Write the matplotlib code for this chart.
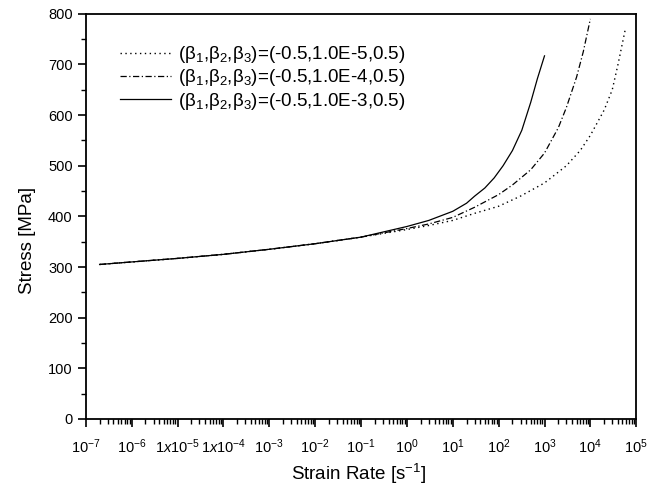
import matplotlib
matplotlib.use('Agg')
import matplotlib.pyplot as plt
from matplotlib.ticker import FixedLocator, FixedFormatter, LogLocator, NullFormatter, MultipleLocator

plt.rcParams['font.family'] = ['Liberation Sans', 'DejaVu Sans']
plt.rcParams['mathtext.fontset'] = 'custom'
plt.rcParams['mathtext.rm'] = 'Liberation Sans'
plt.rcParams['mathtext.it'] = 'Liberation Sans:italic'
plt.rcParams['mathtext.bf'] = 'Liberation Sans:bold'

# beta2 = 1.0E-5 (dotted)
rate_e5 = [2e-7, 1e-6, 1e-5, 1e-4, 1e-3, 1e-2, 1e-1, 1, 3, 10, 30, 100, 300, 1000,
           3000, 6000, 10000, 20000, 30000, 40000, 57000]
stress_e5 = [305, 310, 317, 325, 335, 346, 359, 374, 382, 392, 406, 420, 440, 466,
             500, 530, 560, 610, 650, 700, 767]

# beta2 = 1.0E-4 (dash-dot)
rate_e4 = [2e-7, 1e-6, 1e-5, 1e-4, 1e-3, 1e-2, 1e-1, 1, 3, 10, 30, 100, 200, 500,
           1000, 2000, 3000, 5000, 7000, 10000]
stress_e4 = [305, 310, 317, 325, 335, 346, 359, 376, 385, 398, 418, 443, 462, 492,
             525, 575, 615, 675, 725, 790]

# beta2 = 1.0E-3 (solid)
rate_e3 = [2e-7, 1e-6, 1e-5, 1e-4, 1e-3, 1e-2, 1e-1, 1, 3, 10, 20, 30, 50, 80,
           125, 200, 320, 500, 700, 1000]
stress_e3 = [305, 310, 317, 325, 335, 346, 359, 380, 392, 410, 426, 440, 456, 476,
             500, 530, 570, 625, 672, 717]

labels = ['(β$_1$,β$_2$,β$_3$)=(-0.5,1.0E-5,0.5)',
          '(β$_1$,β$_2$,β$_3$)=(-0.5,1.0E-4,0.5)',
          '(β$_1$,β$_2$,β$_3$)=(-0.5,1.0E-3,0.5)']

xtick_vals = [1e-7, 1e-6, 1e-5, 1e-4, 1e-3, 1e-2, 1e-1, 1, 10, 100, 1e3, 1e4, 1e5]
xtick_labels = ['$10^{-7}$', '$10^{-6}$', '$1x10^{-5}$', '$1x10^{-4}$', '$10^{-3}$', '$10^{-2}$',
                '$10^{-1}$', '$10^{0}$', '$10^{1}$', '$10^{2}$', '$10^{3}$', '$10^{4}$', '$10^{5}$']

fig = plt.figure(figsize=(6.6, 4.94), dpi=100)
ax = fig.add_axes([0.130, 0.152, 0.834, 0.820])

ax.plot(rate_e5, stress_e5, color='black', lw=1.0, linestyle=(0, (1, 2.5)), label=labels[0])
ax.plot(rate_e4, stress_e4, color='black', lw=0.9, linestyle=(0, (5, 2, 1, 2)), label=labels[1])
ax.plot(rate_e3, stress_e3, color='black', lw=0.9, linestyle='-', label=labels[2])

ax.set_xscale('log')
ax.set_xlim(1e-7, 1e5)
ax.set_ylim(0, 800)

ax.xaxis.set_major_locator(FixedLocator(xtick_vals))
ax.xaxis.set_major_formatter(FixedFormatter(xtick_labels))
ax.xaxis.set_minor_locator(LogLocator(base=10, subs=range(2, 10), numticks=100))
ax.xaxis.set_minor_formatter(NullFormatter())
ax.yaxis.set_major_locator(MultipleLocator(100))
ax.yaxis.set_minor_locator(MultipleLocator(50))

ax.tick_params(which='major', direction='out', length=6, width=1.2, labelsize=10.5, top=False, right=False)
ax.tick_params(axis='x', which='major', pad=7)
ax.tick_params(which='minor', direction='out', length=3.5, width=1.0, top=False, right=False)
for s in ax.spines.values():
    s.set_linewidth(1.3)

ax.set_xlabel('Strain Rate [s$^{-1}$]', fontsize=13.5)
ax.set_ylabel('Stress [MPa]', fontsize=13.5)
ax.xaxis.set_label_coords(0.495, -0.105)
ax.yaxis.set_label_coords(-0.09, 0.44)

ax.legend(loc='upper left', bbox_to_anchor=(0.062, 0.925), frameon=False, fontsize=13.5,
          borderaxespad=0, borderpad=0,
          handlelength=2.7, handletextpad=0.4, labelspacing=0.12)

fig.savefig('out.png', dpi=100)
